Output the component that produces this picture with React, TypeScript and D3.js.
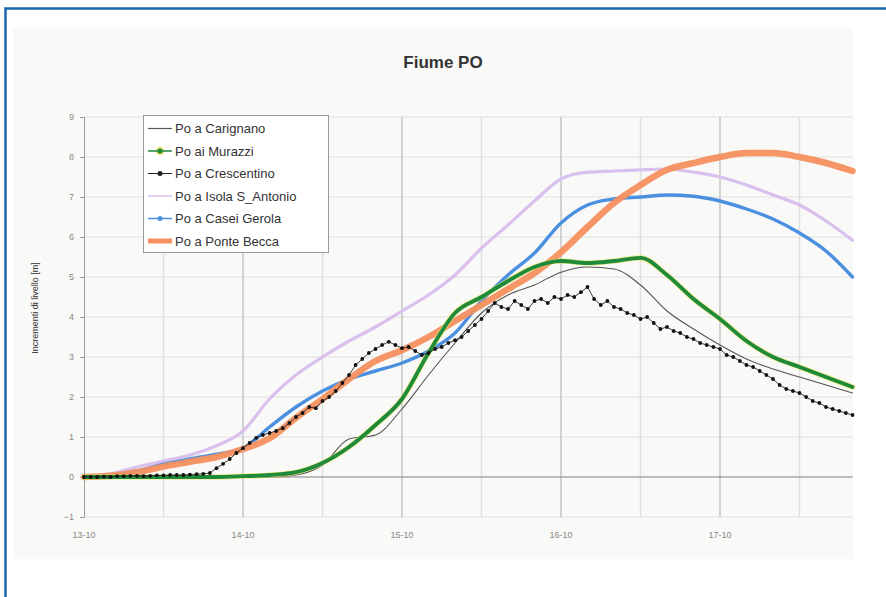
import React, { useEffect, useRef } from "react";
import * as d3 from "d3";

// x values in hours from 13-10 00:00
const hours4 = [0, 4, 8, 12, 16, 20, 24, 28, 32, 36, 40, 44, 48, 52, 56, 60, 64, 68, 72, 76, 80, 84, 88, 92, 96, 100, 104, 108, 112, 116];

const carignano = [0, 0, 0, 0, 0, 0, 0, 0, 0.05, 0.3, 0.95, 1.05, 1.7, 2.55, 3.35, 4.1, 4.55, 4.8, 5.12, 5.25, 5.2, 4.8, 4.15, 3.7, 3.3, 2.95, 2.7, 2.5, 2.3, 2.1];
const murazzi = [0, 0, 0, 0, 0, 0, 0.02, 0.05, 0.12, 0.35, 0.75, 1.3, 1.95, 3.1, 4.1, 4.5, 4.9, 5.25, 5.4, 5.35, 5.4, 5.48, 5.05, 4.45, 3.95, 3.4, 3.0, 2.75, 2.5, 2.25];
const isolaSAntonio = [0, 0.08, 0.25, 0.4, 0.55, 0.78, 1.15, 1.95, 2.55, 3.0, 3.4, 3.75, 4.15, 4.55, 5.05, 5.72, 6.3, 6.9, 7.45, 7.62, 7.65, 7.68, 7.7, 7.62, 7.5, 7.3, 7.05, 6.8, 6.4, 5.92];
const caseiGerola = [0, 0.04, 0.15, 0.32, 0.45, 0.57, 0.72, 1.25, 1.75, 2.15, 2.45, 2.65, 2.85, 3.15, 3.6, 4.4, 5.05, 5.6, 6.35, 6.8, 6.95, 7.0, 7.05, 7.02, 6.9, 6.7, 6.45, 6.1, 5.65, 5.0];
const ponteBecca = [0, 0.03, 0.12, 0.26, 0.38, 0.5, 0.7, 0.97, 1.48, 1.95, 2.45, 2.9, 3.17, 3.5, 3.9, 4.3, 4.7, 5.1, 5.62, 6.25, 6.85, 7.3, 7.68, 7.85, 8.0, 8.1, 8.1, 8.0, 7.85, 7.65];

// hourly readings, 0..116 h
const crescentino = [
  0, 0, 0, 0.01, 0, 0.02, 0.02, 0.03, 0.03, 0.02, 0.03, 0.04, 0.04, 0.05, 0.05, 0.05, 0.06, 0.07, 0.08, 0.1,
  0.22, 0.33, 0.45, 0.6, 0.72, 0.85, 0.98, 1.05, 1.1, 1.15, 1.22, 1.35, 1.5, 1.6, 1.75, 1.72, 1.9, 2.0, 2.15, 2.35,
  2.55, 2.8, 2.95, 3.1, 3.2, 3.3, 3.38, 3.3, 3.22, 3.25, 3.15, 3.05, 3.1, 3.2, 3.25, 3.35, 3.42, 3.5, 3.65, 3.8,
  3.95, 4.15, 4.35, 4.25, 4.2, 4.4, 4.3, 4.2, 4.4, 4.45, 4.35, 4.5, 4.45, 4.55, 4.5, 4.62, 4.75, 4.45, 4.3, 4.4,
  4.25, 4.2, 4.1, 4.05, 3.95, 4.0, 3.85, 3.7, 3.75, 3.65, 3.6, 3.5, 3.45, 3.35, 3.3, 3.25, 3.2, 3.05, 3.0, 2.9,
  2.8, 2.75, 2.65, 2.55, 2.45, 2.3, 2.2, 2.15, 2.1, 2.0, 1.9, 1.85, 1.75, 1.7, 1.65, 1.6, 1.55,
];

const dayLabels = ["13-10", "14-10", "15-10", "16-10", "17-10"];
const yTicks = [-1, 0, 1, 2, 3, 4, 5, 6, 7, 8, 9];
const legendNames = [
  "Po a Carignano",
  "Po ai Murazzi",
  "Po a Crescentino",
  "Po a Isola S_Antonio",
  "Po a Casei Gerola",
  "Po a Ponte Becca",
];

const FONT = "'Liberation Sans', Arial, sans-serif";

export default function App() {
  const ref = useRef<SVGSVGElement | null>(null);

  useEffect(() => {
    const svg = d3.select(ref.current);
    svg.selectAll("*").remove();

    const width = 886;
    const height = 597;
    const x = d3.scaleLinear().domain([0, 116]).range([84, 852.5]);
    const y = d3.scaleLinear().domain([-1, 9]).range([517, 117]);

    svg.append("rect").attr("width", width).attr("height", height).attr("fill", "#fff");

    // chart panel
    svg.append("rect").attr("x", 13).attr("y", 27).attr("width", 840).attr("height", 532).attr("fill", "#f9f9f7");

    // frame
    svg
      .append("rect")
      .attr("x", 5.5)
      .attr("y", 8.5)
      .attr("width", 1000)
      .attr("height", 1000)
      .attr("fill", "none")
      .attr("stroke", "#1d64ae")
      .attr("stroke-width", 2.5);

    svg
      .append("text")
      .attr("x", 443)
      .attr("y", 68)
      .attr("text-anchor", "middle")
      .attr("font-family", FONT)
      .attr("font-weight", "bold")
      .attr("font-size", 17)
      .attr("fill", "#333")
      .text("Fiume PO");

    const g = svg.append("g");
    const [x0, x1] = x.range();
    const [y0, y1] = y.range();

    // grid
    g.selectAll(".hgrid")
      .data(yTicks)
      .enter()
      .append("line")
      .attr("x1", x0)
      .attr("x2", x1)
      .attr("y1", (d) => y(d))
      .attr("y2", (d) => y(d))
      .attr("stroke", "#e2e2e2")
      .attr("stroke-width", 1.2);

    const minor = dayLabels.map((_, i) => i * 24 + 12).filter((h) => h <= 116);
    g.selectAll(".vminor")
      .data(minor)
      .enter()
      .append("line")
      .attr("x1", (d) => x(d))
      .attr("x2", (d) => x(d))
      .attr("y1", y0)
      .attr("y2", y1)
      .attr("stroke", "#e0e0e0")
      .attr("stroke-width", 1.5);

    g.selectAll(".vmajor")
      .data(dayLabels.slice(1))
      .enter()
      .append("line")
      .attr("x1", (_, i) => x((i + 1) * 24))
      .attr("x2", (_, i) => x((i + 1) * 24))
      .attr("y1", y0)
      .attr("y2", y1)
      .attr("stroke", "#b8b8b8")
      .attr("stroke-width", 1.2);

    // zero line
    g.append("line")
      .attr("x1", x0)
      .attr("x2", x1)
      .attr("y1", y(0))
      .attr("y2", y(0))
      .attr("stroke", "#8a8a8a")
      .attr("stroke-width", 1.2);

    // y axis
    const yAxis = d3.axisLeft(y).tickValues(yTicks).tickSize(4).tickPadding(6).tickFormat(d3.format("d"));
    const yAxisG = g.append("g").attr("transform", `translate(${x0},0)`).call(yAxis);
    yAxisG.select(".domain").attr("stroke", "#999");
    yAxisG.selectAll(".tick line").attr("stroke", "#999");
    yAxisG.selectAll("text").attr("fill", "#888").attr("font-size", 9).attr("font-family", FONT);

    // x labels
    g.selectAll(".xlab")
      .data(dayLabels)
      .enter()
      .append("text")
      .attr("x", (_, i) => x(i * 24))
      .attr("y", 538)
      .attr("text-anchor", "middle")
      .attr("font-family", FONT)
      .attr("font-size", 9)
      .attr("fill", "#888")
      .text((d) => d);

    svg
      .append("text")
      .attr("transform", "translate(38,308) rotate(-90)")
      .attr("text-anchor", "middle")
      .attr("font-family", FONT)
      .attr("font-size", 9)
      .attr("fill", "#333")
      .text("Incrementi di livello [m]");

    // series
    const smooth = d3
      .line<number>()
      .x((_, i) => x(hours4[i]))
      .y((d) => y(d))
      .curve(d3.curveMonotoneX);
    const hourly = d3
      .line<number>()
      .x((_, i) => x(i))
      .y((d) => y(d));

    const plot = g.append("g");
    const path = (data: number[], color: string, w: number, op = 1) =>
      plot
        .append("path")
        .attr("d", smooth(data))
        .attr("fill", "none")
        .attr("stroke", color)
        .attr("stroke-width", w)
        .attr("stroke-opacity", op)
        .attr("stroke-linejoin", "round")
        .attr("stroke-linecap", "round");

    path(isolaSAntonio, "#d9c0ee", 3.2);
    path(caseiGerola, "#4b8fe0", 3.4);
    path(ponteBecca, "#f6905f", 6.5, 0.95);
    path(carignano, "#555", 1.1);
    path(murazzi, "#e6e35a", 5.2, 0.8);
    path(murazzi, "#1f8a3c", 3.8);

    plot
      .append("path")
      .attr("d", hourly(crescentino))
      .attr("fill", "none")
      .attr("stroke", "#222")
      .attr("stroke-width", 0.9);
    plot
      .selectAll(".cdot")
      .data(crescentino)
      .enter()
      .append("circle")
      .attr("cx", (_, i) => x(i))
      .attr("cy", (d) => y(d))
      .attr("r", 1.9)
      .attr("fill", "#111");

    // legend
    const lg = svg.append("g");
    lg.append("rect")
      .attr("x", 143.5)
      .attr("y", 115.5)
      .attr("width", 185)
      .attr("height", 137)
      .attr("fill", "#fff")
      .attr("stroke", "#999");

    const rowY = (i: number) => 128.5 + i * 22.5;
    const sym = [
      { c: "#555", w: 1.2, dot: false },
      { c: "#1f8a3c", w: 1.5, dot: true },
      { c: "#222", w: 1, dot: true },
      { c: "#d9c0ee", w: 1.5, dot: false },
      { c: "#4b8fe0", w: 1.5, dot: true },
      { c: "#f6905f", w: 5, dot: false },
    ];
    legendNames.forEach((name, i) => {
      const s = sym[i];
      if (i === 1) {
        lg.append("circle").attr("cx", 160).attr("cy", rowY(i)).attr("r", 4).attr("fill", "#e6e35a");
      }
      lg.append("line")
        .attr("x1", 148)
        .attr("x2", 172)
        .attr("y1", rowY(i))
        .attr("y2", rowY(i))
        .attr("stroke", s.c)
        .attr("stroke-width", s.w);
      if (s.dot) {
        lg.append("circle").attr("cx", 160).attr("cy", rowY(i)).attr("r", 2.5).attr("fill", s.c);
      }
      lg.append("text")
        .attr("x", 175)
        .attr("y", rowY(i) + 4.5)
        .attr("font-family", FONT)
        .attr("font-size", 13)
        .attr("fill", "#333")
        .text(name);
    });
  }, []);

  return (
    <svg
      ref={ref}
      width={886}
      height={597}
      style={{ position: "absolute", left: 0, top: 0, display: "block" }}
    />
  );
}
